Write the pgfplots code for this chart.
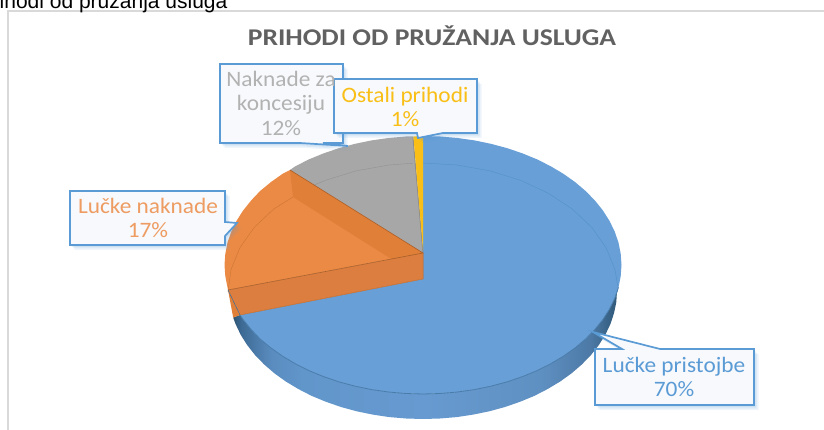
\documentclass[border=0pt]{standalone}
\usepackage{fontspec}
\setmainfont{Carlito}
\newfontfamily\arial{Liberation Sans}
\usepackage{graphicx}
\usepackage{pgfplots}
\pgfplotsset{compat=1.18}
\definecolor{pblue}{HTML}{689FD7}
\definecolor{pedge}{HTML}{5B9BD5}
\definecolor{porange}{HTML}{EB8A45}
\definecolor{pband}{HTML}{E07F38}
\definecolor{pbandlow}{HTML}{DB7E40}
\definecolor{pgray}{HTML}{A7A7A7}
\definecolor{pyellow}{HTML}{F9BF17}
\definecolor{boxfill}{HTML}{F7F9FC}
\definecolor{wa}{HTML}{2C5270}
\definecolor{wb}{HTML}{3C6A94}
\definecolor{wc}{HTML}{5A8CBF}
\definecolor{wd}{HTML}{6196CB}
\definecolor{we}{HTML}{679AD0}
\definecolor{wf}{HTML}{5F90C2}
\definecolor{wg}{HTML}{4C79A6}
\definecolor{wh}{HTML}{2F5878}
\pgfdeclarehorizontalshading{wall}{100bp}{color(0bp)=(wa); color(25bp)=(wa); color(26bp)=(wb); color(30bp)=(wc); color(34bp)=(wd); color(50bp)=(we); color(65bp)=(wf); color(71.5bp)=(wg); color(75bp)=(wh); color(100bp)=(wh)}
% callout box with a soft shadow
\newcommand{\callout}[1]{%
  \addplot[draw=none, fill=pedge, fill opacity=0.12, xshift=1.5pt, yshift=-2pt] coordinates {#1} -- cycle;
  \addplot[draw=none, fill=pedge, fill opacity=0.12, xshift=3pt, yshift=-3.5pt] coordinates {#1} -- cycle;
  \addplot[draw=none, fill=pedge, fill opacity=0.10, xshift=4.5pt, yshift=-5pt] coordinates {#1} -- cycle;
  \addplot[draw=pedge, line width=1.7pt, fill=boxfill, line join=miter] coordinates {#1} -- cycle;
}
\newcommand{\wide}[2]{\scalebox{#1}[1]{#2}}
\begin{document}
\begin{tikzpicture}
\begin{axis}[
    width=824pt, height=430pt, scale only axis,
    xmin=0, xmax=824, ymin=0, ymax=430, y dir=reverse,
    hide axis, clip=true,
]
% frame
\addplot[draw=black!15, line width=2pt] coordinates {(8,432) (8,11) (826,11)};
\node[anchor=base west, inner sep=0pt, font=\arial\fontsize{21}{24}\selectfont] at (axis cs:-0.5,8.5) {ihodi od pružanja usluga};

% side wall of the big slice
\addplot[draw=none, shade, shading=wall] coordinates {
 (617.5,291) (614.7,298.4) (609.5,309.1) (602.9,319.5) (594.9,329.5) (585.6,339) (575.1,347.9) (563.4,356.2)
 (550.6,363.8) (536.9,370.7) (522.3,376.7) (506.9,381.9) (490.9,386.2) (474.4,389.6) (457.5,392) (440.3,393.5)
 (423,394) (405.7,393.5) (388.5,392) (371.6,389.6) (355.1,386.2) (339.1,381.9) (323.8,376.7) (309.1,370.7)
 (295.4,363.8) (282.6,356.2) (270.9,347.9) (260.1,339) (251.1,329.5) (243.1,319.5) (240,315) (233.2,317.6)
 (235.6,324.1) (240.7,334.8) (247.2,345.1) (255,355) (264.1,364.4) (274.4,373.3) (285.8,381.5) (298.3,389)
 (311.7,395.9) (326,401.8) (341,407) (356.7,411.3) (372.8,414.6) (389.3,417.1) (406.1,418.5) (423,419)
 (439.9,418.5) (456.7,417.1) (473.2,414.6) (489.3,411.3) (505,407) (520,401.8) (534.3,395.9) (547.7,389)
 (560.2,381.5) (571.6,373.3) (581.9,364.4) (591,355) (598.8,345.1) (605.3,334.8) (610.4,324.1) (614,313.2)
 (616.3,302.2) (617,291)} -- cycle;

% top of the big slice
\addplot[draw=none, fill=pblue] coordinates {
 (423,136) (440.3,136.5) (457.5,138) (474.4,140.4) (490.9,143.8) (506.9,148.1) (522.3,153.3) (536.9,159.3)
 (550.6,166.2) (563.4,173.8) (575.1,182.1) (585.6,191) (594.9,200.5) (602.9,210.5) (609.5,220.9) (614.7,231.6)
 (618.5,242.6) (620.7,253.8) (621.5,265) (620.7,276.2) (618.5,287.4) (614.7,298.4) (609.5,309.1) (602.9,319.5)
 (594.9,329.5) (585.6,339) (575.1,347.9) (563.4,356.2) (550.6,363.8) (536.9,370.7) (522.3,376.7) (506.9,381.9)
 (490.9,386.2) (474.4,389.6) (457.5,392) (440.3,393.5) (423,394) (405.7,393.5) (388.5,392) (371.6,389.6)
 (355.1,386.2) (339.1,381.9) (323.8,376.7) (309.1,370.7) (295.4,363.8) (282.6,356.2) (270.9,347.9) (260.1,339)
 (251.1,329.5) (243.1,319.5) (240,315) (423,279)} -- cycle;
% rim lines
\addplot[draw=pedge!80!black, line width=0.8pt] coordinates {
 (618.5,287.4) (614.7,298.4) (609.5,309.1) (602.9,319.5) (594.9,329.5) (585.6,339) (575.1,347.9) (563.4,356.2)
 (550.6,363.8) (536.9,370.7) (522.3,376.7) (506.9,381.9) (490.9,386.2) (474.4,389.6) (457.5,392) (440.3,393.5)
 (423,394) (405.7,393.5) (388.5,392) (371.6,389.6) (355.1,386.2) (339.1,381.9) (323.8,376.7) (309.1,370.7)
 (295.4,363.8) (282.6,356.2) (270.9,347.9) (260.1,339) (251.1,329.5) (243.1,319.5) (240,315)};
\addplot[draw=pedge!95!black, line width=0.5pt] coordinates {
 (423,163) (456.9,165) (489.7,170.8) (520.5,180.3) (548.3,193.2) (572.4,209.1) (591.9,227.5) (606.2,247.9) (615,269.6) (618,287.5)};

% grey slice
\addplot[draw=none, fill=pgray] coordinates {
 (290,170) (295.4,166.2) (309.1,159.3) (323.8,153.3) (339.1,148.1) (355.1,143.8) (371.6,140.4) (388.5,138) (405.7,136.5) (413,136.4) (423,253)} -- cycle;
\addplot[draw=pgray!88!black, line width=0.4pt] coordinates {(311.2,186.3) (325.5,180.3) (356.3,170.8) (389.1,165) (413,163.2)};
\addplot[draw=black!45, line width=1pt] coordinates {(413,137) (423,253)};

% yellow slice
\addplot[draw=none, fill=pyellow] coordinates {(413.4,136.4) (423,136) (423,250)} -- cycle;

% orange slice
\addplot[draw=none, fill=porange] coordinates {
 (228,290) (225.3,276.2) (224.5,265) (225.3,253.8) (227.5,242.6) (231.3,231.6) (236.5,220.9) (243.1,210.5)
 (251.1,200.5) (260.1,191) (270.9,182.1) (282.6,173.8) (290,170) (423,253)} -- cycle;
\addplot[draw=pband!92!black, line width=0.4pt] coordinates {
 (228,292) (231,269.6) (239.8,247.9) (254.1,227.5) (273.6,209.1) (293,197)};
\addplot[draw=none, fill=pband] coordinates {(290,170) (423,253) (423,279) (293,197)} -- cycle;
\addplot[draw=none, fill=pbandlow] coordinates {(228,290) (423,253) (423,279) (240,315)} -- cycle;
\addplot[draw=none, fill=pband] coordinates {(228,290) (240,315) (233.2,317.6)} -- cycle;
\addplot[draw=pband!75!black, line width=0.6pt] coordinates {(290,170) (423,253) (228,290)};
\addplot[draw=pband!85!black, line width=0.5pt] coordinates {(240,315) (423,279) (423,253)};
\addplot[draw=wb, line width=0.5pt] coordinates {(228,290) (240,315)};

% callouts
\callout{(70,191) (225,191) (225,222) (237,223) (225,236) (225,245) (70,245)}
\callout{(220,64) (343,64) (343,143) (323,143) (348,146) (300,143) (220,143)}
\callout{(334,79) (477,79) (477,133) (443,133) (418,138) (417,133) (334,133)}
\callout{(595,349) (622,349) (593,332) (660,349) (754,349) (754,405) (595,405)}

% texts
\node[font=\bfseries\fontsize{24}{26}\selectfont, text=black!62] at (axis cs:432,36) {\wide{1.15}{PRIHODI OD PRUŽANJA USLUGA}};
\node[font=\fontsize{22}{24}\selectfont, align=center, text=porange!85!white, inner sep=0pt] at (axis cs:148,218) {\wide{1.06}{Lučke naknade}\\\wide{1.06}{17\%}};
\node[font=\fontsize{22}{24.5}\selectfont, align=center, text=black!30, inner sep=0pt] at (axis cs:281,103) {\wide{1.06}{Naknade za}\\\wide{1.06}{koncesiju}\\\wide{1.06}{12\%}};
\node[font=\fontsize{22}{24}\selectfont, align=center, text=pyellow, inner sep=0pt] at (axis cs:405,107) {\wide{1.06}{Ostali prihodi}\\\wide{1.06}{1\%}};
\node[font=\fontsize{22}{24}\selectfont, align=center, text=pedge, inner sep=0pt] at (axis cs:674,377) {\wide{1.06}{Lučke pristojbe}\\\wide{1.06}{70\%}};
\end{axis}
\end{tikzpicture}
\end{document}
